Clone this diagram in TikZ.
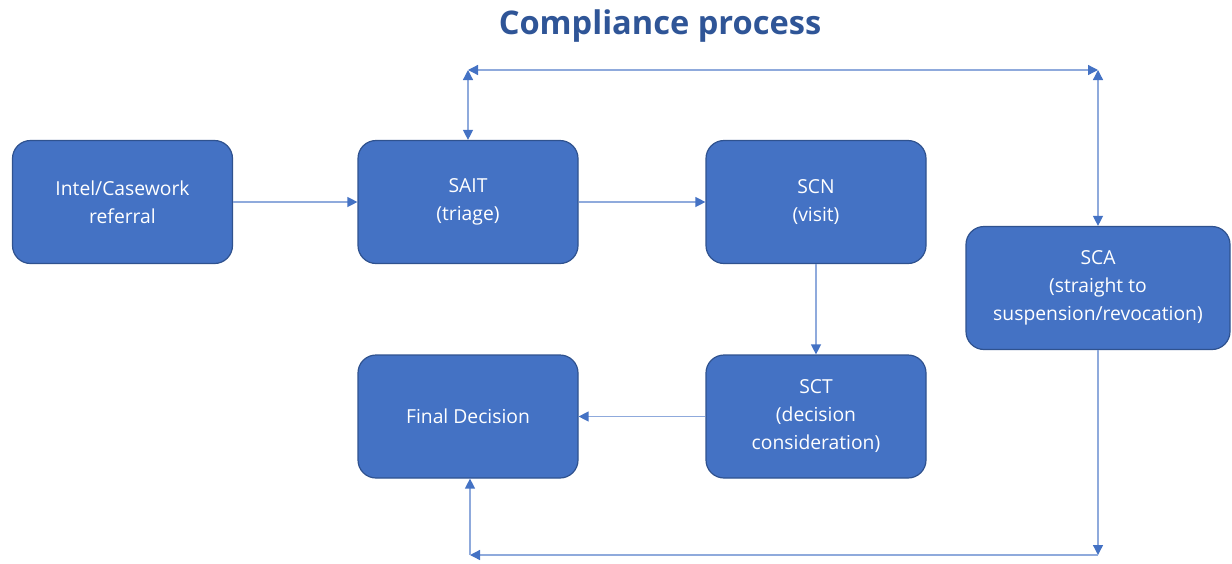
\documentclass[tikz,border=0pt]{standalone}
\usepackage{fontspec}
\setmainfont{Open Sans}
\usetikzlibrary{arrows.meta}
\definecolor{boxfill}{HTML}{4472C4}
\definecolor{boxline}{HTML}{2F528F}
\definecolor{linec}{HTML}{8FAADC}
\definecolor{tipc}{HTML}{4472C4}
\definecolor{titlec}{HTML}{2F5597}
\begin{document}
\begin{tikzpicture}[x=1pt,y=-1pt,
  procbox/.style={draw=boxline, line width=1.2pt, fill=boxfill, rounded corners=18pt,
    minimum width=220pt, minimum height=123pt, text=white, align=center,
    font=\fontsize{19.3}{28}\selectfont, inner sep=0pt},
  conn/.style={draw=linec, line width=1.3pt,
    arrows={-Triangle[length=10pt,width=10pt,color=tipc]}},
  bconn/.style={draw=linec, line width=1.3pt,
    arrows={Triangle[length=10pt,width=10pt,color=tipc]-Triangle[length=10pt,width=10pt,color=tipc]}}
]
\useasboundingbox (0,0) rectangle (1232,563);
\node[font=\fontsize{32.6}{38}\selectfont\bfseries, text=titlec] (title) at (660,26) {Compliance process};

\node[procbox] (intel) at (122.5,202) {Intel/Casework\\referral};
\node[procbox] (sait) at (468,202) {SAIT\\(triage)};
\node[procbox] (scn) at (816,202) {SCN\\(visit)};
\node[procbox, minimum width=264pt] (sca) at (1098,288) {SCA\\(straight to\\suspension/revocation)};
\node[procbox] (final) at (468,416.5) {Final Decision};
\node[procbox] (sct) at (816,416.5) {SCT\\(decision\\consideration)};

\coordinate (tl) at (468,70);
\coordinate (tr) at (1098,70);
\coordinate (bl) at (470,555);
\coordinate (br) at (1098,555);

\draw[conn] (intel.east) -- (sait.west);
\draw[conn] (sait.east) -- (scn.west);
\draw[conn] (scn.south) -- (sct.north);
\draw[conn] (sct.west) -- (final.east);

\draw[bconn] (sait.north) -- (tl);
\draw[bconn] (tl) -- (tr);
\draw[bconn] (tr) -- (sca.north);

\draw[conn] (sca.south) -- (br);
\draw[conn] (br) -- (bl);
\draw[conn] (bl) -- (final.south -| bl);
\end{tikzpicture}
\end{document}
